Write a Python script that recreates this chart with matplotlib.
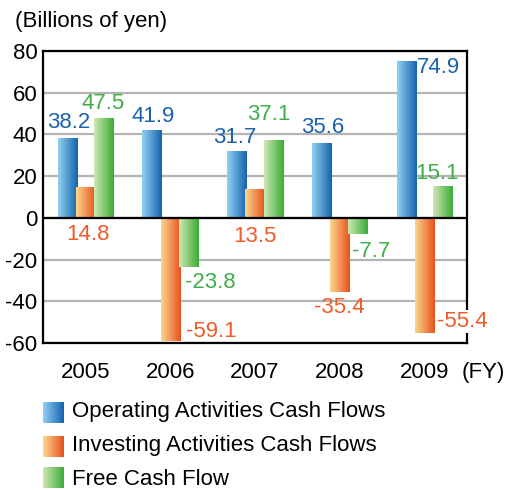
import numpy as np
import matplotlib
matplotlib.use("Agg")
import matplotlib.pyplot as plt
from matplotlib.colors import LinearSegmentedColormap

# ==== DATA ====
years = ["2005", "2006", "2007", "2008", "2009"]
operating = [38.2, 41.9, 31.7, 35.6, 74.9]
investing = [14.8, -59.1, 13.5, -35.4, -55.4]
free_cf = [47.5, -23.8, 37.1, -7.7, 15.1]
series_names = ["Operating Activities Cash Flows",
                "Investing Activities Cash Flows",
                "Free Cash Flow"]

# ==== STYLE ====
plt.rcParams['font.family'] = ['Liberation Sans', 'DejaVu Sans']
plt.rcParams['axes.unicode_minus'] = False
FS = 16
GRADS = [("#92d0f2", "#1563ad"), ("#fcd68e", "#e8521e"), ("#cfe8b4", "#3cab37")]
TEXT_COLS = ["#1a62ad", "#ee5a2a", "#3fae49"]
OFFSETS = [-0.215, 0.0, 0.215]
BAR_W = 0.228
# label offsets (pixels) from bar centre / bar end
LABEL_OFF = [
    [(2, 16), (1, 14), (-2, 14), (1, 16), (32, -6)],
    [(3, -48), (41, 10), (0, -47), (0, -16), (38, 12)],
    [(-1, 15), (22, -15), (-4, 26), (13, -18), (-6, 13)],
]

fig = plt.figure(figsize=(5.07, 4.90), dpi=100)
ax = fig.add_axes([43 / 507, 1 - 343 / 490, 424 / 507, 292 / 490])

x = np.arange(len(years))
grad = np.linspace(0, 1, 64)[None, :]
all_series = [operating, investing, free_cf]

for s, vals in enumerate(all_series):
    cmap = LinearSegmentedColormap.from_list(f"g{s}", GRADS[s])
    for i, v in enumerate(vals):
        xc = x[i] + OFFSETS[s]
        ax.imshow(grad, cmap=cmap, aspect='auto', interpolation='bilinear',
                  extent=(xc - BAR_W / 2, xc + BAR_W / 2, min(0, v), max(0, v)),
                  zorder=2, clip_on=False)
        dx, dy = LABEL_OFF[s][i]
        txt = ax.annotate(f"{v}", (xc, v), xytext=(dx, dy), textcoords='offset pixels',
                          ha='center', va='center', fontsize=FS, color=TEXT_COLS[s],
                          zorder=6)
        # the last label sits over the right frame, which is blanked behind it
        if s == 1 and i == len(vals) - 1:
            txt.set_bbox(dict(facecolor='white', edgecolor='none', pad=1))

ax.set_xlim(-0.5, len(years) - 0.5)
ax.set_ylim(-60, 80)
ax.set_yticks(range(-60, 81, 20))
ax.set_xticks(x)
ax.set_xticklabels(years)
ax.tick_params(length=0, labelsize=FS)
ax.tick_params(axis='x', pad=14)
ax.tick_params(axis='y', pad=4)
ax.yaxis.grid(True, color="#b4b4b4", lw=1.6, zorder=0)
ax.set_axisbelow(True)
ax.axhline(0, color='k', lw=1.6, zorder=3)
for sp in ax.spines.values():
    sp.set_linewidth(1.6)
    sp.set_zorder(5)

fig.text(15 / 507, 1 - 22 / 490, "(Billions of yen)", fontsize=FS, va='center')
fig.text(462 / 507, 1 - 372 / 490, "(FY)", fontsize=FS, va='center')

# ==== LEGEND (drawn by hand for the gradient swatches) ====
lg = fig.add_axes([0, 0, 1, 1], zorder=-1)
lg.set_xlim(0, 507)
lg.set_ylim(490, 0)
lg.axis('off')
rows = [(402, 417), (436, 451), (467, 485)]
for s, (top, base) in enumerate(rows):
    cmap = LinearSegmentedColormap.from_list(f"l{s}", GRADS[s])
    lg.imshow(grad, cmap=cmap, aspect='auto', interpolation='bilinear',
              extent=(43, 64, top + 21, top))
    lg.text(72, base, series_names[s], fontsize=FS, va='baseline')
lg.set_xlim(0, 507)
lg.set_ylim(490, 0)

fig.savefig("out.png", dpi=100)
